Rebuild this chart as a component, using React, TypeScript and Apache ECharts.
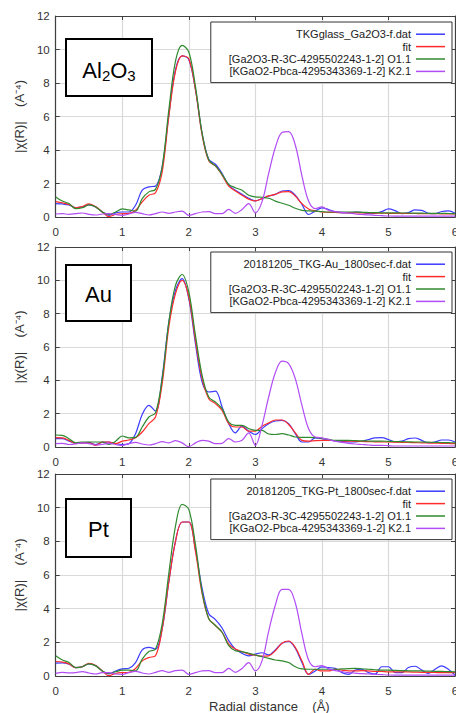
import React, { useEffect, useRef } from 'react';
import * as echarts from 'echarts';

// Radial distance grid (Å)
const R = [
  0.0, 0.1, 0.2, 0.3, 0.4, 0.5, 0.6, 0.7, 0.8, 0.9,
  1.0, 1.1, 1.2, 1.3, 1.4, 1.5, 1.6, 1.7, 1.8, 1.9,
  2.0, 2.1, 2.2, 2.3, 2.4, 2.5, 2.6, 2.7, 2.8, 2.9,
  3.0, 3.1, 3.2, 3.3, 3.4, 3.5, 3.6, 3.7, 3.8, 3.9,
  4.0, 4.1, 4.2, 4.3, 4.4, 4.5, 4.6, 4.7, 4.8, 4.9,
  5.0, 5.1, 5.2, 5.3, 5.4, 5.5, 5.6, 5.7, 5.8, 5.9,
  6.0,
];

const X_TICKS = [0, 1, 2, 3, 4, 5, 6];
const Y_TICKS = [0, 2, 4, 6, 8, 10, 12];

const FIT_NAME = 'fit';
const O_NAME = '[Ga2O3-R-3C-4295502243-1-2] O1.1';
const K_NAME = '[KGaO2-Pbca-4295343369-1-2] K2.1';

// ---- Al2O3 panel ----
const AL_DATA = [
  0.80, 0.78, 0.72, 0.55, 0.60, 0.72, 0.60, 0.30, 0.10, 0.25,
  0.30, 0.30, 0.70, 1.60, 1.80, 1.85, 3.00, 6.10, 8.80, 9.62,
  9.40, 7.60, 5.00, 3.45, 3.15, 2.60, 1.90, 1.60, 1.35, 1.12,
  0.96, 1.10, 1.25, 1.35, 1.55, 1.58, 1.30, 0.75, 0.15, 0.35,
  0.55, 0.45, 0.32, 0.25, 0.24, 0.30, 0.28, 0.20, 0.22, 0.32,
  0.48, 0.38, 0.20, 0.26, 0.42, 0.40, 0.22, 0.20, 0.33, 0.36,
  0.22,
];
const AL_FIT = [
  0.92, 0.85, 0.75, 0.55, 0.62, 0.78, 0.62, 0.30, 0.02, 0.15,
  0.20, 0.22, 0.40, 0.90, 1.30, 1.45, 2.70, 6.00, 8.70, 9.62,
  9.45, 7.60, 4.90, 3.35, 3.05, 2.50, 1.85, 1.55, 1.30, 1.06,
  0.96, 1.10, 1.26, 1.35, 1.50, 1.52, 1.25, 0.80, 0.48, 0.36,
  0.30, 0.28, 0.27, 0.26, 0.25, 0.25, 0.24, 0.24, 0.23, 0.23,
  0.22, 0.22, 0.22, 0.21, 0.21, 0.20, 0.20, 0.20, 0.19, 0.19,
  0.18,
];
const AL_O = [
  1.20, 0.95, 0.80, 0.50, 0.55, 0.72, 0.60, 0.30, 0.15, 0.30,
  0.48, 0.42, 0.35, 1.10, 1.50, 1.65, 3.00, 6.40, 9.30, 10.25,
  9.85, 7.80, 5.00, 3.40, 3.05, 2.55, 1.95, 1.75, 1.60, 1.30,
  1.20, 1.18, 1.12, 0.95, 0.82, 0.70, 0.52, 0.40, 0.36, 0.35,
  0.32, 0.30, 0.30, 0.30, 0.30, 0.30, 0.28, 0.27, 0.26, 0.25,
  0.25, 0.25, 0.24, 0.24, 0.23, 0.23, 0.22, 0.22, 0.22, 0.21,
  0.20,
];
const AL_K = [
  0.18, 0.20, 0.16, 0.20, 0.24, 0.16, 0.12, 0.18, 0.20, 0.15,
  0.10, 0.18, 0.28, 0.20, 0.12, 0.20, 0.30, 0.22, 0.30, 0.35,
  0.10, 0.20, 0.30, 0.32, 0.20, 0.20, 0.45, 0.22, 0.45, 0.80,
  0.25, 0.90, 2.60, 4.15, 5.05, 5.10, 4.30, 2.45, 0.95, 0.50,
  0.60, 0.40, 0.32, 0.28, 0.24, 0.18, 0.15, 0.12, 0.10, 0.08,
  0.06, 0.05, 0.05, 0.05, 0.05, 0.05, 0.05, 0.05, 0.05, 0.05,
  0.05,
];

// ---- Au panel ----
const AU_DATA = [
  0.50, 0.50, 0.35, 0.22, 0.25, 0.28, 0.15, 0.28, 0.30, 0.20,
  0.15, 0.20, 0.80, 1.95, 2.50, 2.15, 4.20, 7.50, 9.40, 10.10,
  8.90, 6.20, 3.90, 3.30, 3.35, 2.40, 1.40, 0.85, 1.25, 0.95,
  0.75, 1.10, 1.40, 1.56, 1.60, 1.40, 0.80, 0.30, 0.30, 0.55,
  0.50, 0.42, 0.37, 0.34, 0.30, 0.30, 0.35, 0.45, 0.55, 0.56,
  0.45, 0.30, 0.35, 0.50, 0.54, 0.40, 0.25, 0.30, 0.42, 0.42,
  0.30,
];
const AU_FIT = [
  0.56, 0.55, 0.40, 0.22, 0.25, 0.25, 0.10, 0.30, 0.30, 0.20,
  0.35, 0.42, 0.55, 0.90, 1.40, 1.80, 3.80, 7.20, 9.20, 10.00,
  9.00, 6.40, 4.10, 2.90, 2.60, 2.20, 1.40, 1.20, 1.20, 0.95,
  0.95, 1.25, 1.45, 1.62, 1.62, 1.35, 0.85, 0.40, 0.35, 0.38,
  0.40, 0.40, 0.38, 0.36, 0.35, 0.34, 0.33, 0.32, 0.31, 0.30,
  0.30, 0.29, 0.28, 0.27, 0.26, 0.25, 0.24, 0.23, 0.22, 0.21,
  0.20,
];
const AU_O = [
  0.72, 0.70, 0.50, 0.25, 0.30, 0.30, 0.30, 0.30, 0.15, 0.35,
  0.66, 0.55, 0.58, 1.20, 1.80, 2.05, 4.10, 7.50, 9.70, 10.35,
  9.30, 6.70, 4.30, 3.00, 2.70, 2.30, 1.50, 1.30, 1.30, 1.10,
  1.00, 1.00, 0.78, 0.75, 0.80, 0.72, 0.60, 0.58, 0.58, 0.56,
  0.52, 0.46, 0.40, 0.40, 0.40, 0.38, 0.37, 0.36, 0.35, 0.35,
  0.34, 0.33, 0.32, 0.31, 0.30, 0.30, 0.29, 0.28, 0.27, 0.26,
  0.25,
];
const AU_K = [
  0.20, 0.22, 0.15, 0.18, 0.25, 0.20, 0.12, 0.15, 0.22, 0.15,
  0.10, 0.20, 0.28, 0.18, 0.12, 0.20, 0.32, 0.25, 0.38, 0.25,
  0.02, 0.25, 0.40, 0.35, 0.20, 0.22, 0.50, 0.30, 0.40, 0.85,
  0.10, 1.30, 3.00, 4.45, 5.15, 5.00, 4.10, 2.50, 1.10, 0.60,
  0.55, 0.45, 0.35, 0.28, 0.22, 0.18, 0.15, 0.12, 0.10, 0.10,
  0.08, 0.06, 0.06, 0.06, 0.06, 0.06, 0.06, 0.06, 0.06, 0.06,
  0.06,
];

// ---- Pt panel ----
const PT_DATA = [
  0.76, 0.78, 0.70, 0.50, 0.55, 0.72, 0.62, 0.30, 0.12, 0.30,
  0.42, 0.46, 0.80, 1.55, 1.70, 1.60, 2.80, 5.60, 8.00, 9.15,
  9.15, 7.50, 5.20, 3.70, 3.35, 2.85, 2.10, 1.60, 1.35, 1.20,
  1.30, 1.38, 1.25, 1.55, 1.95, 2.05, 1.65, 0.80, 0.10, 0.30,
  0.54, 0.50, 0.45, 0.20, 0.10, 0.35, 0.40, 0.20, 0.12, 0.55,
  0.55, 0.20, 0.20, 0.50, 0.58, 0.35, 0.15, 0.40, 0.60, 0.40,
  0.05,
];
const PT_FIT = [
  0.86, 0.82, 0.72, 0.50, 0.55, 0.75, 0.62, 0.30, 0.02, 0.15,
  0.20, 0.22, 0.45, 0.90, 1.10, 1.20, 2.80, 5.60, 8.00, 9.15,
  9.15, 7.40, 4.90, 3.40, 3.00, 2.60, 1.90, 1.60, 1.45, 1.30,
  1.24, 1.18, 1.20, 1.50, 1.95, 2.08, 1.70, 0.90, 0.10, 0.40,
  0.30, 0.30, 0.40, 0.35, 0.30, 0.30, 0.32, 0.30, 0.28, 0.27,
  0.25, 0.25, 0.24, 0.24, 0.23, 0.22, 0.22, 0.21, 0.20, 0.20,
  0.20,
];
const PT_O = [
  1.20, 0.95, 0.80, 0.50, 0.55, 0.72, 0.60, 0.30, 0.15, 0.25,
  0.35, 0.35, 0.30, 1.00, 1.45, 1.60, 3.10, 6.10, 8.90, 10.20,
  9.90, 7.80, 5.00, 3.40, 3.00, 2.60, 1.80, 1.50, 1.45, 1.35,
  1.25, 1.15, 1.05, 0.95, 0.90, 0.80, 0.55, 0.42, 0.40, 0.40,
  0.40, 0.40, 0.40, 0.42, 0.44, 0.45, 0.43, 0.40, 0.37, 0.35,
  0.35, 0.33, 0.32, 0.31, 0.30, 0.30, 0.29, 0.28, 0.27, 0.26,
  0.25,
];
const PT_K = [
  0.16, 0.22, 0.18, 0.20, 0.26, 0.18, 0.12, 0.20, 0.20, 0.12,
  0.10, 0.20, 0.28, 0.18, 0.12, 0.22, 0.32, 0.22, 0.32, 0.35,
  0.10, 0.20, 0.30, 0.32, 0.20, 0.20, 0.45, 0.22, 0.45, 0.80,
  0.30, 0.90, 2.65, 4.20, 5.15, 5.15, 4.35, 2.50, 0.95, 0.55,
  0.62, 0.42, 0.32, 0.26, 0.20, 0.17, 0.14, 0.12, 0.10, 0.08,
  0.06, 0.05, 0.05, 0.05, 0.05, 0.05, 0.05, 0.05, 0.05, 0.05,
  0.05,
];

const PANELS = [
  { label: 'Al2O3', dataName: 'TKGglass_Ga2O3-f.dat', data: AL_DATA, fit: AL_FIT, o: AL_O, k: AL_K },
  { label: 'Au', dataName: '20181205_TKG-Au_1800sec-f.dat', data: AU_DATA, fit: AU_FIT, o: AU_O, k: AU_K },
  { label: 'Pt', dataName: '20181205_TKG-Pt_1800sec-f.dat', data: PT_DATA, fit: PT_FIT, o: PT_O, k: PT_K },
];

// layout (px)
const W = 456;
const H = 713;
const GRID_LEFT = 55.7;
const GRID_RIGHT = 1;
const GRID_TOPS = [16, 247, 474];
const GRID_HEIGHTS = [201, 200, 202];
const LEGEND_TOPS = [22, 252, 479];
const BOXES = [
  { x: 66, y: 39, w: 86, h: 57, tx: 109, ty: 70 },
  { x: 66, y: 265, w: 65, h: 56, tx: 98.5, ty: 294.5 },
  { x: 66, y: 499, w: 65, h: 58, tx: 98.5, ty: 529 },
];

const COLORS = { data: '#3c3cff', fit: '#ff2c2c', o: '#2f8a2f', k: '#b24cf5' };
const FONT = '"Liberation Sans", Arial, Helvetica, sans-serif';
const FRAME = '#404040';

function buildOption() {
  const grid: any[] = [];
  const xAxis: any[] = [];
  const yAxis: any[] = [];
  const series: any[] = [];
  const legend: any[] = [];
  const graphic: any[] = [];

  PANELS.forEach((p, i) => {
    grid.push({
      left: GRID_LEFT, right: GRID_RIGHT, top: GRID_TOPS[i], height: GRID_HEIGHTS[i],
      containLabel: false, outerBoundsMode: 'none',
    });
    const axisLine = { show: true, onZero: false, lineStyle: { color: FRAME, width: 1.2 } };
    const axisTick = { show: true, inside: true, length: 4, lineStyle: { color: FRAME, width: 1 } };
    xAxis.push({
      type: 'value', gridIndex: i, position: 'bottom',
      min: X_TICKS[0], max: X_TICKS[X_TICKS.length - 1], interval: 1,
      axisLine, axisTick,
      axisLabel: { show: true, color: '#333', fontSize: 11.5, margin: 9, fontFamily: FONT },
      splitLine: { show: true, lineStyle: { color: '#d9d9d9', width: 1.2 } },
      name: i === 2 ? 'Radial distance    (Å)' : '',
      nameLocation: 'middle', nameGap: 24,
      nameTextStyle: { fontSize: 13, color: '#333', fontFamily: FONT, padding: [0, 0, 0, 28] },
    });
    xAxis.push({
      type: 'value', gridIndex: i, position: 'top',
      min: X_TICKS[0], max: X_TICKS[X_TICKS.length - 1], interval: 1,
      axisLine, axisTick, axisLabel: { show: false }, splitLine: { show: false },
    });
    yAxis.push({
      type: 'value', gridIndex: i, position: 'left',
      min: Y_TICKS[0], max: Y_TICKS[Y_TICKS.length - 1], interval: 2,
      axisLine, axisTick,
      axisLabel: { show: true, color: '#333', fontSize: 11.5, margin: 6, fontFamily: FONT },
      splitLine: { show: true, lineStyle: { color: '#d9d9d9', width: 1.2 } },
      name: '|χ(R)|    (A⁻⁴)', nameLocation: 'middle', nameGap: 27,
      nameTextStyle: { fontSize: 13, color: '#333', fontFamily: FONT },
    });
    yAxis.push({
      type: 'value', gridIndex: i, position: 'right',
      min: Y_TICKS[0], max: Y_TICKS[Y_TICKS.length - 1], interval: 2,
      axisLine, axisTick, axisLabel: { show: false }, splitLine: { show: false },
    });

    const mk = (name: string, vals: number[], color: string) => ({
      type: 'line', name, xAxisIndex: i * 2, yAxisIndex: i * 2,
      data: R.map((r, j) => [r, vals[j]]),
      smooth: 0.35, symbol: 'none', showSymbol: false,
      lineStyle: { color, width: 1.2 }, itemStyle: { color },
    });
    series.push(mk(p.dataName, p.data, COLORS.data));
    series.push(mk(FIT_NAME, p.fit, COLORS.fit));
    series.push(mk(O_NAME, p.o, COLORS.o));
    series.push(mk(K_NAME, p.k, COLORS.k));

    legend.push({
      data: [p.dataName, FIT_NAME, O_NAME, K_NAME],
      orient: 'vertical', align: 'right', right: W - 452, top: LEGEND_TOPS[i],
      icon: 'rect', itemWidth: 29, itemHeight: 1.5, itemGap: 0,
      padding: [6, 7, 5, 18],
      backgroundColor: '#fff', borderColor: '#333', borderWidth: 1, borderRadius: 0,
      textStyle: { fontSize: 11, color: '#222', lineHeight: 12.4, fontFamily: FONT },
      selectedMode: false,
    });

    const b = BOXES[i];
    graphic.push({
      type: 'rect', z: 10,
      shape: { x: b.x, y: b.y, width: b.w, height: b.h },
      style: { fill: '#fff', stroke: '#000', lineWidth: 2 },
    });
    if (p.label === 'Al2O3') {
      graphic.push({
        type: 'text', z: 11, x: b.tx, y: b.ty,
        style: {
          text: '{n|Al}{s|2}{n|O}{s|3}',
          align: 'center', verticalAlign: 'middle', fill: '#000', fontFamily: FONT,
          rich: {
            n: { fontSize: 22, lineHeight: 26, verticalAlign: 'middle', fontFamily: FONT, fill: '#000' },
            s: { fontSize: 15, lineHeight: 13, verticalAlign: 'bottom', fontFamily: FONT, fill: '#000' },
          },
        },
      });
    } else {
      graphic.push({
        type: 'text', z: 11, x: b.tx, y: b.ty,
        style: { text: p.label, fontSize: 22, fontFamily: FONT, fill: '#000', align: 'center', verticalAlign: 'middle' },
      });
    }
  });

  return {
    animation: false,
    backgroundColor: '#fff',
    textStyle: { fontFamily: FONT },
    grid, xAxis, yAxis, series, legend, graphic,
  };
}

export default function App() {
  const ref = useRef<HTMLDivElement>(null);
  useEffect(() => {
    if (!ref.current) return;
    const chart = echarts.init(ref.current, undefined, { renderer: 'svg' });
    chart.setOption(buildOption());
    return () => chart.dispose();
  }, []);
  return <div ref={ref} style={{ position: 'absolute', left: 0, top: 0, width: W, height: H }} />;
}
